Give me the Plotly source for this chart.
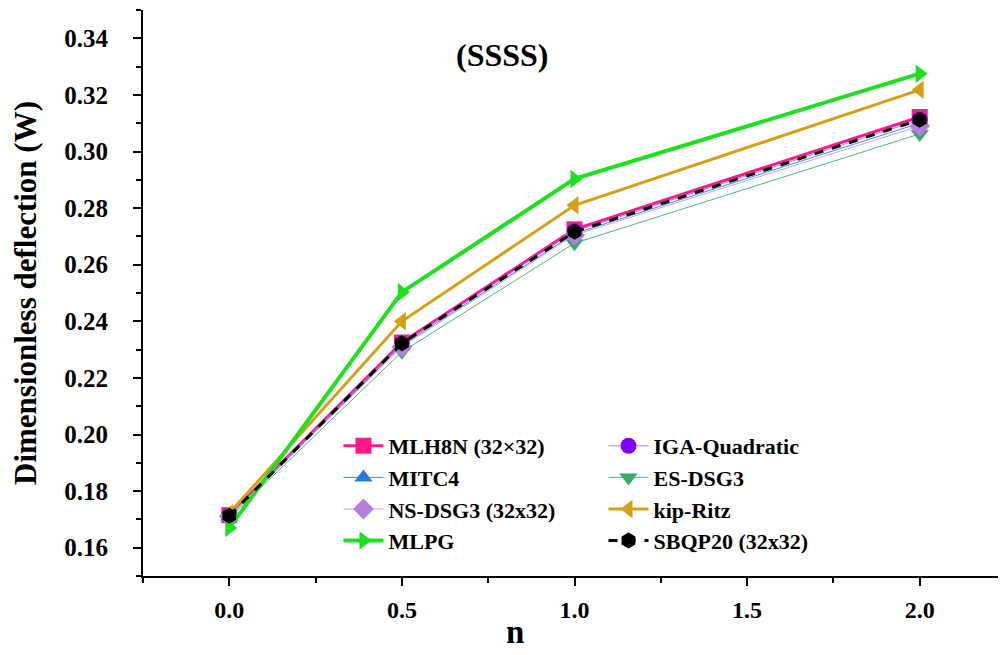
import plotly.graph_objects as go

n_vals = [0.0, 0.5, 1.0, 2.0]

mlh8n = [0.1715, 0.2325, 0.2725, 0.3122]
iga = [0.1713, 0.2320, 0.2718, 0.3112]
mitc4 = [0.1710, 0.2315, 0.2710, 0.3100]
esdsg3 = [0.1705, 0.2292, 0.2676, 0.3062]
nsdsg3 = [0.1710, 0.2310, 0.2705, 0.3090]
kipritz = [0.1722, 0.2400, 0.2810, 0.3218]
mlpg = [0.1670, 0.2503, 0.2903, 0.3275]
sbqp20 = [0.1713, 0.2322, 0.2716, 0.3112]

y_tick_vals = [0.16, 0.18, 0.20, 0.22, 0.24, 0.26, 0.28, 0.30, 0.32, 0.34]
x_tick_vals = [0.0, 0.5, 1.0, 1.5, 2.0]
x_tick_text = ["0.0", "0.5", "1.0", "1.5", "2.0"]

FONT = "Liberation Serif"

series = [
    # name, data, color, line width, dash, symbol, legend, marker color
    ("MLH8N (32×32)", mlh8n, "#FF1A8C", 3, "solid", "square", "legend", "#FF1A8C"),
    ("MITC4", mitc4, "#3C8CE6", 1, "solid", "triangle-up", "legend", "#2A78DC"),
    ("NS-DSG3 (32x32)", nsdsg3, "#C8A0F0", 1, "solid", "diamond", "legend", "#B47EE0"),
    ("MLPG", mlpg, "#1EE01E", 4, "solid", "triangle-right", "legend", "#1EE01E"),
    ("IGA-Quadratic", iga, "#B478FF", 1, "solid", "circle", "legend2", "#7F00FF"),
    ("ES-DSG3", esdsg3, "#50B482", 1, "solid", "triangle-down", "legend2", "#3CAA6E"),
    ("kip-Ritz", kipritz, "#D4A017", 3, "solid", "triangle-left", "legend2", "#D4A017"),
    ("SBQP20 (32x32)", sbqp20, "#000000", 3, "dash", "hexagon", "legend2", "#000000"),
]

draw_order = ["MLH8N (32×32)", "IGA-Quadratic", "MITC4", "ES-DSG3", "NS-DSG3 (32x32)",
              "kip-Ritz", "MLPG", "SBQP20 (32x32)"]
lookup = {s[0]: s for s in series}

fig = go.Figure()
for nm in draw_order:
    name, data, color, lw, dash, sym, leg, mcol = lookup[nm]
    fig.add_trace(go.Scatter(
        x=n_vals, y=data, mode="lines+markers", name=name,
        line=dict(color=color, width=lw, dash=dash),
        marker=dict(symbol=sym, size=16, color=mcol, line=dict(width=0)),
        legend=leg,
    ))

legend_common = dict(
    font=dict(family=FONT, size=22, color="black", weight="bold"),
    bgcolor="rgba(0,0,0,0)", borderwidth=0,
    yanchor="top", xanchor="left", tracegroupgap=0,
    itemwidth=40,
)

fig.update_layout(
    width=998, height=647,
    margin=dict(l=135, r=0, t=2, b=79),
    paper_bgcolor="white", plot_bgcolor="white",
    font=dict(family=FONT, color="black"),
    showlegend=True,
    legend=dict(x=0.2265, y=0.2668, traceorder="normal", **legend_common),
    legend2=dict(x=0.5336, y=0.2668, traceorder="normal", **legend_common),
    xaxis=dict(
        range=[-0.25, 2.25], tickvals=x_tick_vals, ticktext=x_tick_text,
        showline=True, linecolor="black", linewidth=2, mirror=False,
        ticks="outside", ticklen=8, tickwidth=2, tickcolor="black",
        minor=dict(dtick=0.25, tick0=0, ticks="outside", ticklen=5, tickwidth=2, tickcolor="black"),
        showgrid=False, zeroline=False, ticklabelstandoff=3,
        tickfont=dict(family=FONT, size=24, color="black", weight="bold"),
    ),
    yaxis=dict(
        range=[0.15, 0.35], tickvals=y_tick_vals, tickformat=".2f",
        showline=True, linecolor="black", linewidth=2, mirror=False,
        ticks="outside", ticklen=8, tickwidth=2, tickcolor="black",
        minor=dict(dtick=0.01, tick0=0.15, ticks="outside", ticklen=5, tickwidth=2, tickcolor="black"),
        showgrid=False, zeroline=False, ticklabelstandoff=20,
        tickfont=dict(family=FONT, size=25, color="black", weight="bold"),
        title=dict(text="Dimensionless deflection (W)",
                   font=dict(family=FONT, size=31, color="black", weight="bold"), standoff=18),
    ),
    annotations=[
        dict(text="(SSSS)", x=0.79, y=0.334, xref="x", yref="y", showarrow=False,
             font=dict(family=FONT, size=32, color="black", weight="bold")),
        dict(text="n", x=0.431, y=-0.099, xref="paper", yref="paper", showarrow=False,
             xanchor="center", yanchor="middle",
             font=dict(family=FONT, size=33, color="black", weight="bold")),
    ],
)

fig.write_html("out.html")
